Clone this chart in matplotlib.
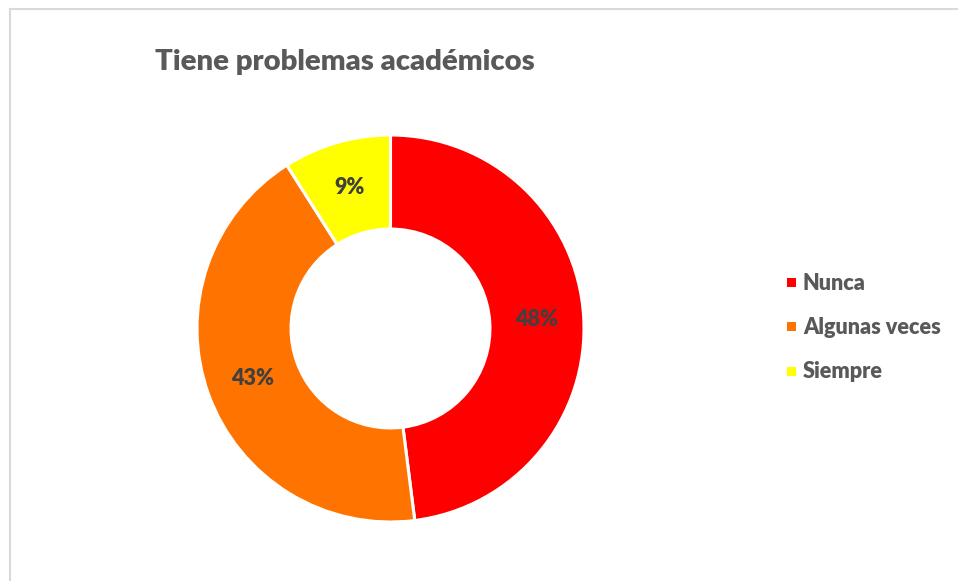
import numpy as np
import matplotlib.pyplot as plt
from matplotlib.lines import Line2D

# data
categorias = ['Nunca', 'Algunas veces', 'Siempre']
porcentajes = [48, 43, 9]
colores = ['#FF0000', '#FF7400', '#FFFF00']
titulo = 'Tiene problemas académicos'

plt.rcParams['font.family'] = ['Lato', 'DejaVu Sans']

W, H = 958, 581
fig = plt.figure(figsize=(W / 100, H / 100), dpi=100)

# axes placed so the ring centre sits at (390, 328) px, outer radius ~194 px
cx, cy, r = 390.5, 328.5, 193.5
ax = fig.add_axes([(cx - r) / W, 1 - (cy + r) / H, 2 * r / W, 2 * r / H])
wedges, _ = ax.pie(porcentajes, colors=colores, startangle=90, counterclock=False,
                   radius=1.0, wedgeprops=dict(width=0.486, edgecolor='white', linewidth=2.2))
ax.set_xlim(-1, 1)
ax.set_ylim(-1, 1)
ax.set_aspect('equal')
ax.axis('off')

# percentage labels in the middle of each ring segment
for p, w in zip(porcentajes, wedges):
    mid = np.deg2rad((w.theta1 + w.theta2) / 2)
    rr = 0.757
    ax.text(rr * np.cos(mid), rr * np.sin(mid), f'{p}%', ha='center', va='center',
            fontsize=15.5, fontweight='heavy', color='#404040')

fig.text(155 / W, 1 - 62 / H, titulo, ha='left', va='center',
         fontsize=21.1, fontweight='heavy', color='#595959')

# legend
leg_y = [283, 327, 372]
for lab, c, y in zip(categorias, colores, leg_y):
    fig.patches.append(plt.Rectangle((787 / W, 1 - (y + 4) / H), 9 / W, 9 / H,
                                     transform=fig.transFigure, facecolor=c,
                                     edgecolor='none', figure=fig))
    fig.text(803 / W, 1 - y / H, lab, ha='left', va='center',
             fontsize=15.6, fontweight='heavy', color='#595959')

# chart frame (top and left edges visible)
fig.add_artist(Line2D([9.5 / W, 1], [1 - 8.5 / H, 1 - 8.5 / H], color='#D9D9D9', lw=1.5))
fig.add_artist(Line2D([9.5 / W, 9.5 / W], [0, 1 - 8.5 / H], color='#D9D9D9', lw=1.5))

fig.savefig('out.png', dpi=100)
